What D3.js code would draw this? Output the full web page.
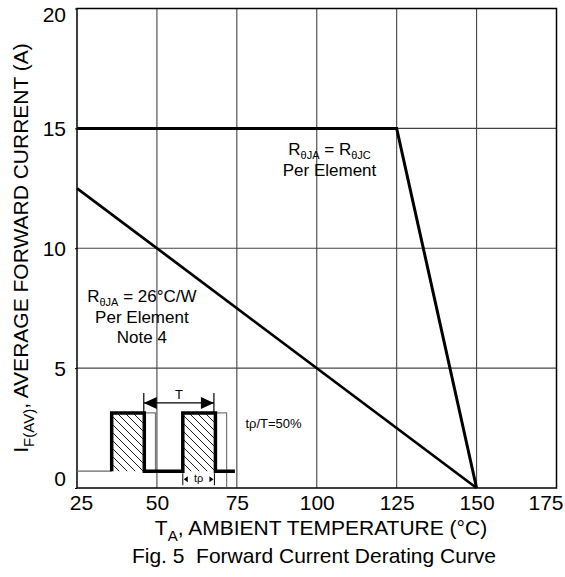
<!DOCTYPE html>
<html>
<head>
<meta charset="utf-8">
<script src="https://d3js.org/d3.v7.min.js"></script>
<style>
  body { margin: 0; background: #fff; }
  text { font-family: "Liberation Sans", Arial, sans-serif; fill: #000; }
</style>
</head>
<body>
<script>
// valori
var xTicks = [25, 50, 75, 100, 125, 150, 175];
var yTicks = [0, 5, 10, 15, 20];
var tempJC = [25, 125, 150];
var currJC = [15, 15, 0];
var tempJA = [25, 150];
var currJA = [12.5, 0];

// riquadro dell'impulso (in unita' del grafico)
var pulseStart = [35.85, 58.1];
var pulseWidth = 10.2;
var pulseTop = 3.13;
var pulseBase = 0.7;
var pulseShadow = 3.5;
var pulseEnd = 74.4;

var width = 565, height = 577;

var svg = d3.select("body").append("svg")
  .attr("width", width)
  .attr("height", height);

var x = d3.scaleLinear().domain([25, 175]).range([77, 556.5]);
var y = d3.scaleLinear().domain([0, 20]).range([488, 8.5]);

// pattern a tratteggio
var defs = svg.append("defs");
defs.append("pattern")
  .attr("id", "hatch")
  .attr("patternUnits", "userSpaceOnUse")
  .attr("width", 8).attr("height", 8)
  .append("path")
  .attr("d", "M0,0 L8,8 M-2,6 L2,10 M6,-2 L10,2")
  .attr("stroke", "#000").attr("stroke-width", 0.9);

// griglia
svg.append("g").selectAll("line")
  .data(xTicks.slice(1, -1))
  .enter().append("line")
  .attr("x1", function (d) { return x(d); })
  .attr("x2", function (d) { return x(d); })
  .attr("y1", y(0)).attr("y2", y(20))
  .attr("stroke", "#444").attr("stroke-width", 1.1);

svg.append("g").selectAll("line")
  .data(yTicks.slice(1, -1))
  .enter().append("line")
  .attr("y1", function (d) { return y(d); })
  .attr("y2", function (d) { return y(d); })
  .attr("x1", x(25)).attr("x2", x(175))
  .attr("stroke", "#444").attr("stroke-width", 1.1);

// asse y
var yAxis = svg.append("g")
  .attr("transform", "translate(" + x(25) + ",0)")
  .call(d3.axisLeft(y).tickValues(yTicks).tickSize(2).tickPadding(9));
yAxis.select(".domain").remove();
yAxis.selectAll("text")
  .style("font-size", "21px")
  .attr("dy", function (d) { return d === 20 ? "0.62em" : (d === 0 ? "-0.1em" : "0.36em"); });

// asse x
var xAxis = svg.append("g")
  .attr("transform", "translate(0," + y(0) + ")")
  .call(d3.axisBottom(x).tickValues(xTicks).tickSize(0).tickPadding(7));
xAxis.select(".domain").remove();
xAxis.selectAll("text")
  .style("font-size", "21px")
  .attr("dx", function (d) { return d === 25 ? 4 : (d === 175 ? -11 : 0); });

// cornice
svg.append("rect")
  .attr("x", x(25)).attr("y", y(20))
  .attr("width", x(175) - x(25)).attr("height", y(0) - y(20))
  .attr("fill", "none").attr("stroke", "#000").attr("stroke-width", 1.5);

// curve
var line = d3.line()
  .x(function (d) { return x(d[0]); })
  .y(function (d) { return y(d[1]); });

svg.append("path")
  .datum(d3.zip(tempJC, currJC))
  .attr("d", line)
  .attr("fill", "none").attr("stroke", "#000").attr("stroke-width", 3)
  .attr("stroke-linejoin", "miter");

svg.append("path")
  .datum(d3.zip(tempJA, currJA))
  .attr("d", line)
  .attr("fill", "none").attr("stroke", "#000").attr("stroke-width", 2.7);

// riquadro impulsi
var inset = svg.append("g");
var p1 = pulseStart[0], p2 = pulseStart[1], w = pulseWidth;

// linea base sottile
inset.append("line")
  .attr("x1", x(25)).attr("x2", x(p1))
  .attr("y1", y(pulseBase)).attr("y2", y(pulseBase))
  .attr("stroke", "#666").attr("stroke-width", 1.2);

// ombre grigie
inset.append("path")
  .attr("d", "M" + x(p1 + w) + "," + y(pulseTop) + "H" + x(p1 + w + pulseShadow) + "V" + y(pulseBase))
  .attr("fill", "none").attr("stroke", "#777").attr("stroke-width", 1.2);
inset.append("path")
  .attr("d", "M" + x(p2 + w) + "," + y(pulseTop) + "H" + x(p2 + w + pulseShadow) + "V" + (y(0) - 1))
  .attr("fill", "none").attr("stroke", "#777").attr("stroke-width", 1.2);

pulseStart.forEach(function (s) {
  inset.append("rect")
    .attr("x", x(s)).attr("y", y(pulseTop))
    .attr("width", x(s + w) - x(s)).attr("height", y(pulseBase) - y(pulseTop))
    .attr("fill", "url(#hatch)");
});

// profilo spesso
var wave = "M" + x(p1) + "," + y(pulseBase) +
  "V" + y(pulseTop) + "H" + x(p1 + w) + "V" + y(pulseBase) +
  "H" + x(p2) + "V" + y(pulseTop) + "H" + x(p2 + w) + "V" + y(pulseBase) +
  "H" + x(pulseEnd);
inset.append("path")
  .attr("d", wave)
  .attr("fill", "none").attr("stroke", "#000").attr("stroke-width", 3.5)
  .attr("stroke-linejoin", "miter");

// freccia T
var arrowY = y(pulseTop) - 10;
var tL = x(p1 + w) - 0.5, tR = x(p2 + w) - 1.5;
inset.append("path")
  .attr("d", "M" + tL + "," + (y(pulseTop) - 20) + "V" + y(pulseTop) +
    "M" + tR + "," + (y(pulseTop) - 20) + "V" + y(pulseTop) +
    "M" + tL + "," + arrowY + "H" + tR)
  .attr("stroke", "#000").attr("stroke-width", 1.2).attr("fill", "none");
inset.append("path")
  .attr("d", "M" + tL + "," + arrowY + "l13,-6v12z" + "M" + tR + "," + arrowY + "l-13,-6v12z")
  .attr("fill", "#000");
inset.append("text")
  .attr("x", (tL + tR) / 2).attr("y", arrowY - 4)
  .attr("text-anchor", "middle")
  .style("font-size", "13px")
  .text("T");

// freccia tp
var tpY = y(pulseBase) + 8;
var a = x(p2), b = x(p2 + w) - 1;
inset.append("path")
  .attr("d", "M" + a + "," + (tpY - 6) + "V" + (tpY + 6) + "M" + b + "," + (tpY - 6) + "V" + (tpY + 6))
  .attr("stroke", "#000").attr("stroke-width", 1);
inset.append("path")
  .attr("d", "M" + (a + 1) + "," + tpY + "l4,-3v6z" + "M" + (b - 1) + "," + tpY + "l-4,-3v6z")
  .attr("fill", "#000");
inset.append("text")
  .attr("x", (a + b) / 2).attr("y", tpY + 3)
  .attr("text-anchor", "middle")
  .style("font-size", "11px")
  .text("tρ");

svg.append("text")
  .attr("x", x(77.7)).attr("y", y(2.5))
  .style("font-size", "13px")
  .text("tρ/T=50%");

// annotazioni
var ann1 = svg.append("g");
var t1 = ann1.append("text").attr("x", x(104)).attr("y", y(13.9))
  .attr("text-anchor", "middle").style("font-size", "17px");
t1.append("tspan").text("R");
t1.append("tspan").attr("dy", 4).style("font-size", "11px").text("θJA");
t1.append("tspan").attr("dy", -4).text(" = R");
t1.append("tspan").attr("dy", 4).style("font-size", "11px").text("θJC");
ann1.append("text").attr("x", x(104)).attr("y", y(13.03))
  .attr("text-anchor", "middle").style("font-size", "17px").text("Per Element");

var ann2 = svg.append("g");
var t2 = ann2.append("text").attr("x", x(45.3)).attr("y", y(7.76))
  .attr("text-anchor", "middle").style("font-size", "17px");
t2.append("tspan").text("R");
t2.append("tspan").attr("dy", 4).style("font-size", "11px").text("θJA");
t2.append("tspan").attr("dy", -4).text(" = 26°C/W");
ann2.append("text").attr("x", x(45.3)).attr("y", y(6.88))
  .attr("text-anchor", "middle").style("font-size", "17px").text("Per Element");
ann2.append("text").attr("x", x(45.3)).attr("y", y(6.03))
  .attr("text-anchor", "middle").style("font-size", "17px").text("Note 4");

// titoli
var xt = svg.append("text")
  .attr("x", 321).attr("y", 535)
  .attr("text-anchor", "middle").style("font-size", "21px");
xt.append("tspan").text("T");
xt.append("tspan").attr("dy", 6).style("font-size", "15px").text("A");
xt.append("tspan").attr("dy", -6).text(", AMBIENT TEMPERATURE (°C)");

var yt = svg.append("text")
  .attr("transform", "translate(28,248) rotate(-90)")
  .attr("text-anchor", "middle").style("font-size", "21px");
yt.append("tspan").text("I");
yt.append("tspan").attr("dy", 6).style("font-size", "15px").text("F(AV)");
yt.append("tspan").attr("dy", -6).text(", AVERAGE FORWARD CURRENT (A)");

svg.append("text")
  .attr("x", 314).attr("y", 563)
  .attr("text-anchor", "middle").style("font-size", "21px")
  .style("white-space", "pre")
  .text("Fig. 5  Forward Current Derating Curve");
</script>
</body>
</html>
